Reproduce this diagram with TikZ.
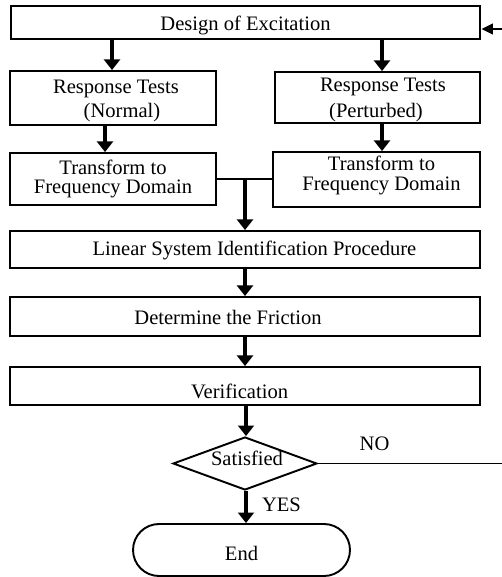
\documentclass[tikz,border=0pt]{standalone}
\usepackage{fontspec}
\setmainfont{Liberation Serif}
\usetikzlibrary{shapes.geometric,arrows.meta}

\begin{document}
\begin{tikzpicture}[x=0.02cm, y=-0.02cm, line width=1.1pt, font=\fontsize{11.7}{13}\selectfont]
\tikzstyle{box}=[rectangle,draw=black,text=black,align=center,inner sep=0pt,text depth=0pt]
\tikzstyle{wide}=[box,minimum width=9.4cm,minimum height=0.76cm]
\tikzstyle{half}=[box,minimum width=4.12cm,minimum height=1.06cm]
\tikzstyle{arr}=[-{Triangle[width=9pt,length=6pt]},line width=2.3pt]
\tikzstyle{fb}=[-{Triangle[width=6pt,length=6.5pt]}]
\useasboundingbox (0,0) rectangle (501,577);
\node[wide, minimum height=0.66cm, text height=9.4pt] (design) at (245.5,22.5) {Design of Excitation};
\node[half, minimum height=1.08cm, text height=22.4pt, font=\fontsize{11.7}{13.6}\selectfont] (norm) at (113,98)
  {\hspace*{3.4pt}Response Tests\\\hspace*{10.2pt}(Normal)};
\node[half, minimum width=4.1cm, minimum height=1.02cm, text height=23pt, font=\fontsize{11.7}{14.7}\selectfont] (pert) at (377.5,97.5)
  {\hspace*{6.2pt}Response Tests\\(Perturbed)\hspace*{1.7pt}};
\node[half, minimum height=1.04cm, text height=16.7pt, font=\fontsize{11.7}{10.8}\selectfont] (tfl) at (113,179)
  {Transform to\\Frequency Domain};
\node[half, minimum width=4.14cm, minimum height=1.1cm, text height=13pt, font=\fontsize{11.7}{11.6}\selectfont] (tfr) at (376.5,179.5)
  {\hspace*{5.7pt}Transform to\\\hspace*{5.7pt}Frequency Domain};
\node[wide, minimum height=0.74cm, text height=6.8pt]  (lin)   at (245,249.5) {\hspace*{10.8pt}Linear System Identification Procedure};
\node[wide, minimum height=0.78cm, text height=9.1pt]  (fric)  at (245,316.5) {Determine the Friction\hspace*{19.3pt}};
\node[wide, minimum height=0.76cm, text height=14.2pt] (verif) at (245,386)   {Verification\hspace*{6.2pt}};
\node[diamond, draw, inner sep=0pt, minimum width=2.88cm, minimum height=1.06cm] (sat) at (245,463.5) {};
\node[anchor=base] (sattext) at (247,465) {Satisfied};
\node[box, minimum width=4.34cm, minimum height=1.04cm, text height=12.4pt, rounded corners=0.52cm] (fin) at (241.5,550) {End};
\node[anchor=base] (no)  at (374.5,450) {NO};
\node[anchor=base] (yes) at (281.5,511) {YES};
\coordinate (j)  at (245,179.3);
\coordinate (r1) at (508,463.5);
\coordinate (r2) at (508,29);
\draw[arr] (design.south -| 112,0) -- (norm.north -| 112,0);
\draw[arr] (design.south -| 382,0) -- (pert.north -| 382,0);
\draw[arr] (norm.south -| 105,0) -- (tfl.north -| 105,0);
\draw[arr] (pert.south -| 382,0) -- (tfr.north -| 382,0);
\draw (tfl.east |- j) -- (tfr.west |- j);
\draw[arr] (j) -- (lin);
\draw[arr] (lin) -- (fric);
\draw[arr] (fric) -- (verif);
\draw[arr] (verif.south -| 246,0) -- (sat.north -| 246,0);
\draw[arr] (sat.south -| 246,0) -- (fin.north -| 246,0);
\draw[fb] (sat.east) -- (r1) -- (r2) -- (r2 -| design.east);
\end{tikzpicture}
\end{document}
